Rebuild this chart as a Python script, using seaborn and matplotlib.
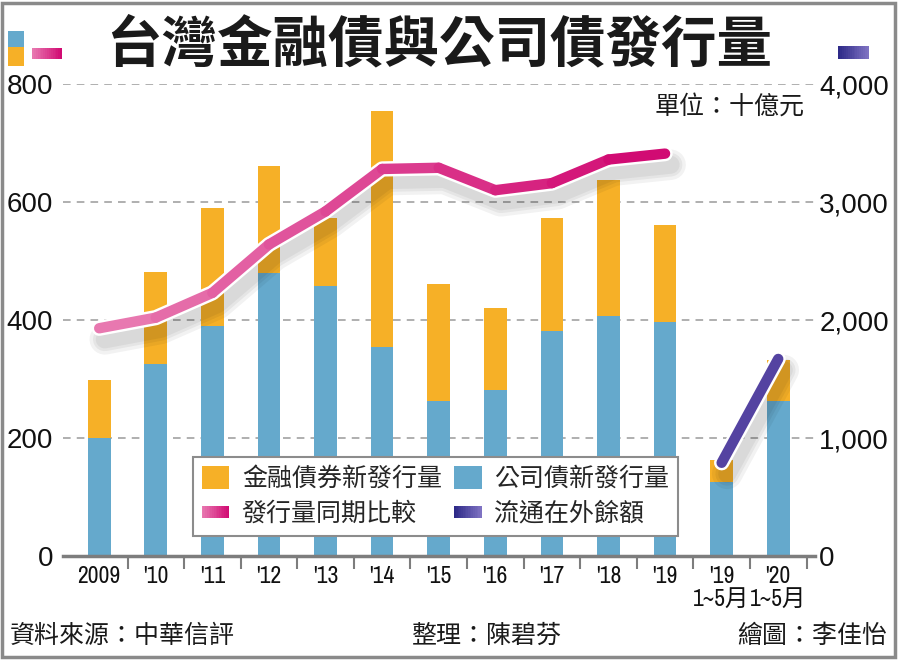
import numpy as np
import matplotlib
matplotlib.use("Agg")
import matplotlib.pyplot as plt
import matplotlib.patheffects as pe
from matplotlib import font_manager
from matplotlib.collections import LineCollection
from matplotlib.colors import LinearSegmentedColormap
from matplotlib.legend_handler import HandlerBase
from matplotlib.lines import Line2D
from matplotlib.patches import Patch, Rectangle
import seaborn as sns

# data (十億元)
categories = ["2009", "'10", "'11", "'12", "'13", "'14", "'15", "'16", "'17", "'18", "'19",
              "'19\n1~5月", "'20\n1~5月"]
corp_bonds = [200, 325, 390, 479, 458, 354, 263, 281, 381, 406, 397, 126, 263]
fin_bonds = [98, 157, 199, 182, 115, 401, 198, 140, 192, 232, 164, 37, 70]
yearly_total = [1930, 2020, 2230, 2640, 2920, 3280, 3290, 3100, 3160, 3360, 3410]
outstanding = [790, 1670]

ORANGE = "#F6B027"
BLUE = "#65A9CC"
GRID = "#9a9a9a"
AXIS = "#7d7d7d"
pink_cmap = LinearSegmentedColormap.from_list("pink", ["#E878B0", "#D10B73"])
purple_cmap = LinearSegmentedColormap.from_list("purple", ["#6E5AB4", "#3A2D8E"])
purple_icon_cmap = LinearSegmentedColormap.from_list("purple_icon", ["#2E2A88", "#7E72C2"])

W, H = 900, 661
CJK = ["Noto Sans CJK TC", "DejaVu Sans"]

sns.set_theme(style="white")
plt.rcParams["font.family"] = ["Liberation Sans", "Noto Sans CJK TC", "DejaVu Sans"]

# a condensed face for the x labels, if one is installed
narrow = sorted({f.name for f in font_manager.fontManager.ttflist
                 if f.stretch in ("condensed", "semi-condensed", "extra-condensed")
                 or "Narrow" in f.name or "Condensed" in f.name})
if narrow:
    XFONT, XSIZE, XSTRETCH = [narrow[0], "Noto Sans CJK TC"], 17, "condensed"
else:
    XFONT, XSIZE, XSTRETCH = ["Liberation Sans", "Noto Sans CJK TC"], 15, "normal"


class GradientHandler(HandlerBase):
    """Legend handle drawn as a short horizontal gradient bar."""
    def __init__(self, cmap, frac=0.5):
        super().__init__()
        self.cmap = cmap
        self.frac = frac

    def create_artists(self, legend, orig_handle, xdescent, ydescent,
                       width, height, fontsize, trans):
        n = 16
        hh = height * self.frac
        y0 = -ydescent + (height - hh) / 2
        out = []
        for i in range(n):
            out.append(Rectangle((-xdescent + i * width / n, y0), width / n * 1.08, hh,
                                 facecolor=self.cmap(i / (n - 1)), edgecolor="none",
                                 transform=trans))
        return out


def fig_rect(x, y, w, h):
    # pixel box (top-left origin) -> figure coords
    return (x / W, 1 - (y + h) / H), w / W, h / H


def gradient_icon(fig, x, y, w, h, cmap, n=16):
    for i in range(n):
        xy, ww, hh = fig_rect(x + i * w / n, y, w / n * 1.08, h)
        fig.add_artist(Rectangle(xy, ww, hh, transform=fig.transFigure,
                                 facecolor=cmap(i / (n - 1)), edgecolor="none"))


def draw_line(ax, x, y, cmap):
    shadow = [pe.SimpleLineShadow(offset=(4, -8), shadow_color="black", alpha=0.05, linewidth=lw)
              for lw in (22, 17, 13)]
    sns.lineplot(x=x, y=y, ax=ax, color="white", linewidth=11, sort=False,
                 solid_capstyle="round", solid_joinstyle="round",
                 path_effects=shadow + [pe.Normal()])
    pts = np.column_stack([x, y])
    segs = np.stack([pts[:-1], pts[1:]], axis=1)
    colors = cmap(np.linspace(0, 1, len(segs))) if len(segs) > 1 else [cmap(0.5)]
    lc = LineCollection(segs, colors=colors, linewidths=7.5, capstyle="round", joinstyle="round")
    ax.add_collection(lc)


fig = plt.figure(figsize=(W / 100, H / 100), dpi=100)
ax = fig.add_axes([63 / W, 105 / H, 752 / W, 472 / H])

totals = [c + f for c, f in zip(corp_bonds, fin_bonds)]
sns.barplot(x=categories, y=totals, order=categories, color=ORANGE, saturation=1,
            width=0.4, linewidth=0, ax=ax)
sns.barplot(x=categories, y=corp_bonds, order=categories, color=BLUE, saturation=1,
            width=0.4, linewidth=0, ax=ax)

ax.set_xlim(-0.64, 12.65)
ax.set_ylim(0, 800)
ax.set_yticks([0, 200, 400, 600, 800])
ax.set_axisbelow(True)
ax.yaxis.grid(True, linestyle=(0, (5, 4)), color=GRID, linewidth=1.1)
ax.tick_params(axis="y", length=0, pad=7, labelsize=20, labelcolor="#111111")
for side in ("top", "left", "right"):
    ax.spines[side].set_visible(False)
ax.spines["bottom"].set_color(AXIS)
ax.spines["bottom"].set_linewidth(2.5)
ax.set_xticks(range(len(categories)))
ax.set_xticklabels(categories, family=XFONT, fontsize=XSIZE, fontstretch=XSTRETCH)
ax.set_xticks(np.arange(0.5, len(categories), 1), minor=True)
ax.tick_params(axis="x", which="major", length=0, pad=7, labelcolor="#111111")
ax.tick_params(axis="x", which="minor", length=9, width=1.5, color=AXIS, bottom=True)
for lab in ax.get_xticklabels():
    lab.set_linespacing(1.1)
ax.set_xlabel("")
ax.set_ylabel("")

ax2 = ax.twinx()
ax2.set_ylim(0, 4000)
ax2.set_yticks([0, 1000, 2000, 3000, 4000])
ax2.set_yticklabels([f"{v:,}" for v in [0, 1000, 2000, 3000, 4000]])
ax2.tick_params(axis="y", length=0, pad=3, labelsize=20, labelcolor="#111111")
ax2.grid(False)
for side in ax2.spines:
    ax2.spines[side].set_visible(False)

draw_line(ax2, np.arange(len(yearly_total)), np.array(yearly_total), pink_cmap)
draw_line(ax2, np.array([11, 12]), np.array(outstanding), purple_cmap)
ax2.set_xlim(-0.64, 12.65)
ax2.set_ylabel("")

# legend
h_fin = Patch(facecolor=ORANGE, edgecolor="none")
h_corp = Patch(facecolor=BLUE, edgecolor="none")
h_cmp = Line2D([], [])
h_out = Line2D([], [])
leg = ax2.legend(handles=[h_fin, h_cmp, h_corp, h_out],
                 labels=["金融債券新發行量", "發行量同期比較", "公司債新發行量", "流通在外餘額"],
                 ncol=2, loc="upper left", bbox_to_anchor=(193 / W, 1 - 457 / H),
                 bbox_transform=fig.transFigure, borderaxespad=0, frameon=True,
                 fancybox=False, framealpha=1, edgecolor="#8c8c8c",
                 prop={"family": CJK, "size": 18}, handlelength=1.1, handleheight=1.05,
                 handletextpad=0.5, columnspacing=0.5, borderpad=0.35, labelspacing=0.35,
                 handler_map={h_cmp: GradientHandler(pink_cmap), h_out: GradientHandler(purple_icon_cmap)})
leg.get_frame().set_linewidth(1.5)

# title and notes
fig.text(439 / W, 1 - 45 / H, "台灣金融債與公司債發行量", family=CJK, fontsize=40,
         fontweight="bold", ha="center", va="center", color="#1a1a1a")
fig.text(805 / W, 1 - 107 / H, "單位：十億元", family=CJK, fontsize=18,
         ha="right", va="center", color="#1a1a1a")
fig.text(10 / W, 1 - 636 / H, "資料來源：中華信評", family=CJK, fontsize=18,
         ha="left", va="center", color="#1a1a1a")
fig.text(486 / W, 1 - 636 / H, "整理：陳碧芬", family=CJK, fontsize=18,
         ha="center", va="center", color="#1a1a1a")
fig.text(887 / W, 1 - 636 / H, "繪圖：李佳怡", family=CJK, fontsize=18,
         ha="right", va="center", color="#1a1a1a")

# axis key icons
xy, w, h = fig_rect(8, 31, 16, 16)
fig.add_artist(Rectangle(xy, w, h, transform=fig.transFigure, facecolor=BLUE, edgecolor="none"))
xy, w, h = fig_rect(8, 47, 16, 19)
fig.add_artist(Rectangle(xy, w, h, transform=fig.transFigure, facecolor=ORANGE, edgecolor="none"))
gradient_icon(fig, 32, 48, 30, 11, pink_cmap)
gradient_icon(fig, 838, 46, 31, 13, purple_icon_cmap)

# frame
fig.add_artist(Rectangle((2 / W, 4 / H), 893 / W, 654 / H, transform=fig.transFigure,
                         fill=False, edgecolor="#8a8a8a", linewidth=2.5))

fig.savefig("out.png", dpi=100)
